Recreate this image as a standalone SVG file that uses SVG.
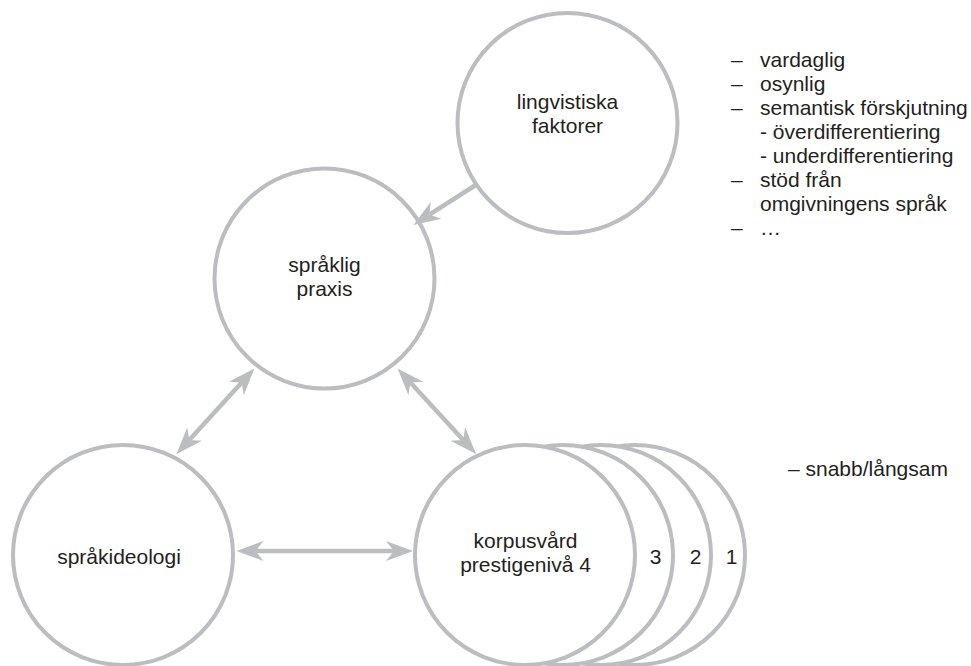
<svg xmlns="http://www.w3.org/2000/svg" width="971" height="666" viewBox="0 0 971 666">
  <defs>
    <style>
      .node { fill: #ffffff; stroke: #bcbdc0; stroke-width: 4; }
      .conn { stroke: #bcbdc0; stroke-width: 4.5; fill: none; }
      .lbl { font-family: "Liberation Sans", Arial, Helvetica, sans-serif; font-size: 21px; fill: #231f20; }
      .mid { text-anchor: middle; }
    </style>
    <marker id="ah" viewBox="0 0 30 24" markerWidth="30" markerHeight="24" refX="8" refY="12" orient="auto-start-reverse" markerUnits="userSpaceOnUse">
      <path d="M0,2 L27,12 L0,22 L8,12 Z" fill="#bcbdc0"/>
    </marker>
  </defs>
  <rect width="971" height="666" fill="#ffffff"/>

  <g id="lingvistiska-faktorer">
    <circle class="node" cx="567.5" cy="123" r="110"/>
    <text class="lbl mid" x="567.5" y="109">lingvistiska</text>
    <text class="lbl mid" x="567.5" y="133">faktorer</text>
  </g>

  <g id="spraklig-praxis">
    <circle class="node" cx="324.5" cy="278.5" r="110"/>
    <text class="lbl mid" x="324.5" y="272">språklig</text>
    <text class="lbl mid" x="324.5" y="296">praxis</text>
  </g>

  <g id="sprakideologi">
    <circle class="node" cx="123" cy="555" r="110"/>
    <text class="lbl mid" x="119" y="564">språkideologi</text>
  </g>

  <g id="korpusvard">
    <circle class="node" cx="635" cy="555" r="110"/>
    <circle class="node" cx="601" cy="555" r="110"/>
    <circle class="node" cx="563" cy="555" r="110"/>
    <circle class="node" cx="525" cy="555" r="110"/>
    <text class="lbl mid" x="525.5" y="547.5">korpusvård</text>
    <text class="lbl mid" x="525.5" y="572">prestigenivå 4</text>
    <text class="lbl mid" x="655.5" y="564">3</text>
    <text class="lbl mid" x="695.5" y="564">2</text>
    <text class="lbl mid" x="731.5" y="564">1</text>
  </g>

  <g id="connectors">
    <line class="conn" x1="475" y1="185.5" x2="429.4" y2="214.7" marker-end="url(#ah)"/>
    <line class="conn" x1="189.3" y1="440" x2="241.7" y2="382.5" marker-start="url(#ah)" marker-end="url(#ah)"/>
    <line class="conn" x1="410.4" y1="382.5" x2="463.2" y2="440" marker-start="url(#ah)" marker-end="url(#ah)"/>
    <line class="conn" x1="255.5" y1="551" x2="394" y2="551" marker-start="url(#ah)" marker-end="url(#ah)"/>
  </g>

  <g id="factor-list">
    <text class="lbl" x="731" y="66.5">–</text>
    <text class="lbl" x="760" y="66.5">vardaglig</text>
    <text class="lbl" x="731" y="90.5">–</text>
    <text class="lbl" x="760" y="90.5">osynlig</text>
    <text class="lbl" x="731" y="114.5">–</text>
    <text class="lbl" x="760" y="114.5">semantisk förskjutning</text>
    <text class="lbl" x="760" y="138.5">- överdifferentiering</text>
    <text class="lbl" x="760" y="162.5">- underdifferentiering</text>
    <text class="lbl" x="731" y="186.5">–</text>
    <text class="lbl" x="760" y="186.5">stöd från</text>
    <text class="lbl" x="760" y="210.5">omgivningens språk</text>
    <text class="lbl" x="731" y="234.5">–</text>
    <text class="lbl" x="760" y="234.5">…</text>
  </g>

  <g id="speed-note">
    <text class="lbl" x="788" y="476">– snabb/långsam</text>
  </g>
</svg>
